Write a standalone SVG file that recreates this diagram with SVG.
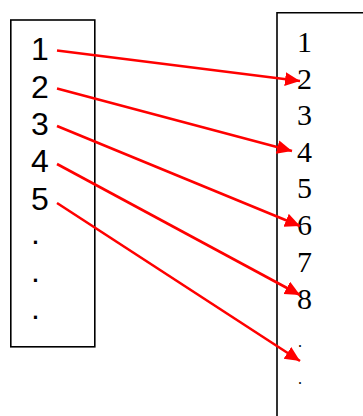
<svg xmlns="http://www.w3.org/2000/svg" width="363" height="416" viewBox="0 0 363 416">
<style>
.box{fill:none;stroke:#000;stroke-width:1.6}
.l{font-family:"Liberation Sans",Arial,sans-serif;font-size:32px;fill:#000}
.r{font-family:"Liberation Serif","Times New Roman",serif;font-size:30px;fill:#000}
.rd{font-family:"Liberation Serif","Times New Roman",serif;font-size:16px;fill:#000}
.c{stroke:#f00;stroke-width:2.6;fill:none;marker-end:url(#ah)}
</style>
<defs>
<marker id="ah" markerUnits="userSpaceOnUse" markerWidth="17" markerHeight="15" refX="15" refY="7" orient="auto">
<path d="M0,0 L15,7 L0,14 z" fill="#f00"/>
</marker>
</defs>
<rect width="363" height="416" fill="#fff"/>
<g id="left">
<rect class="box" x="10.8" y="20" width="84" height="326.8"/>
<text class="l" x="31" y="60">1</text>
<text class="l" x="31" y="97.5">2</text>
<text class="l" x="31" y="135">3</text>
<text class="l" x="31" y="172">4</text>
<text class="l" x="31" y="209.5">5</text>
<text class="l" x="31" y="244">.</text>
<text class="l" x="31" y="281.5">.</text>
<text class="l" x="31" y="319">.</text>
</g>
<g id="right">
<path class="box" d="M277,416 V12.8 H363"/>
<text class="r" x="297" y="52">1</text>
<text class="r" x="297" y="88.5">2</text>
<text class="r" x="297" y="125">3</text>
<text class="r" x="297" y="161.5">4</text>
<text class="r" x="297" y="198">5</text>
<text class="r" x="297" y="235">6</text>
<text class="r" x="297" y="272">7</text>
<text class="r" x="297" y="308.5">8</text>
<text class="rd" x="298" y="347">.</text>
<text class="rd" x="298" y="383.5">.</text>
</g>
<g id="connectors">
<line class="c" x1="57" y1="50.5" x2="300" y2="81"/>
<line class="c" x1="57" y1="88.5" x2="292" y2="151"/>
<line class="c" x1="57" y1="126" x2="300" y2="226"/>
<line class="c" x1="57" y1="164" x2="300" y2="295"/>
<line class="c" x1="57" y1="203" x2="300" y2="361"/>
</g>
</svg>
